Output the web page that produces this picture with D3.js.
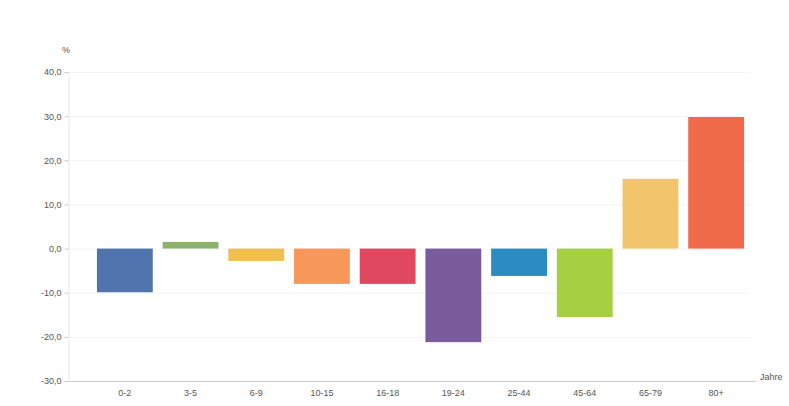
<!DOCTYPE html>
<html>
<head>
<meta charset="utf-8">
<script src="https://cdn.jsdelivr.net/npm/d3@7"></script>
<style>
  body { margin: 0; background: #fff; }
  svg { display: block; font-family: "Liberation Sans", Arial, sans-serif; }
</style>
</head>
<body>
<svg id="chart" width="789" height="406"></svg>
<script>
// Age groups and change in %
const categories = ["0-2", "3-5", "6-9", "10-15", "16-18", "19-24", "25-44", "45-64", "65-79", "80+"];
const values = [-9.9, 1.5, -2.8, -8.0, -8.0, -21.2, -6.2, -15.5, 15.8, 29.8];
const colors = ["#4f74ae", "#8db36a", "#efc04e", "#f7985a", "#e0485f", "#7a5b9c", "#2a8cc0", "#a6cf42", "#f2c46c", "#ef6a48"];
const yTicks = [-30, -20, -10, 0, 10, 20, 30, 40];

const svg = d3.select("#chart");

const x = d3.scaleBand()
    .domain(categories)
    .range([92, 749])
    .paddingInner(0.15)
    .paddingOuter(0.075);

const y = d3.scaleLinear()
    .domain([-30, 40])
    .range([381, 72]);

// faint gridlines
svg.append("g")
    .selectAll("line")
    .data(yTicks.filter(d => d !== -30))
    .enter()
    .append("line")
    .attr("x1", 68)
    .attr("x2", 750)
    .attr("y1", d => y(d) + 0.5)
    .attr("y2", d => y(d) + 0.5)
    .attr("stroke", "#f3f3f3")
    .attr("stroke-width", 1);

// y axis (comma decimal, plain hyphen for minus)
const yAxis = d3.axisLeft(y)
    .tickValues(yTicks)
    .tickFormat(d => d.toFixed(1).replace(".", ","))
    .tickSize(4)
    .tickPadding(3);

const gy = svg.append("g")
    .attr("transform", "translate(68.5, 0)")
    .call(yAxis);
gy.select(".domain").attr("stroke", "#e6e6e6");
gy.selectAll(".tick line").attr("stroke", "#cccccc");
gy.selectAll("text")
    .style("font-size", "9px")
    .style("fill", "#555");

// bars
svg.append("g")
    .selectAll("rect")
    .data(values)
    .enter()
    .append("rect")
    .attr("x", (d, i) => x(categories[i]))
    .attr("width", x.bandwidth())
    .attr("y", d => y(Math.max(0, d)))
    .attr("height", d => Math.abs(y(d) - y(0)))
    .attr("fill", (d, i) => colors[i]);

// x axis
const xAxis = d3.axisBottom(x)
    .tickSize(0)
    .tickPadding(8);

const gx = svg.append("g")
    .attr("transform", "translate(0, 381.5)")
    .call(xAxis);
gx.select(".domain")
    .attr("d", "M68,0H756")
    .attr("stroke", "#cccccc");
gx.selectAll("text")
    .style("font-size", "9px")
    .style("fill", "#555");

// axis titles
svg.append("text")
    .attr("x", 62)
    .attr("y", 53)
    .style("font-size", "9px")
    .style("fill", "#555")
    .text("%");

svg.append("text")
    .attr("x", 760)
    .attr("y", 380)
    .style("font-size", "9px")
    .style("fill", "#555")
    .text("Jahre");
</script>
</body>
</html>
